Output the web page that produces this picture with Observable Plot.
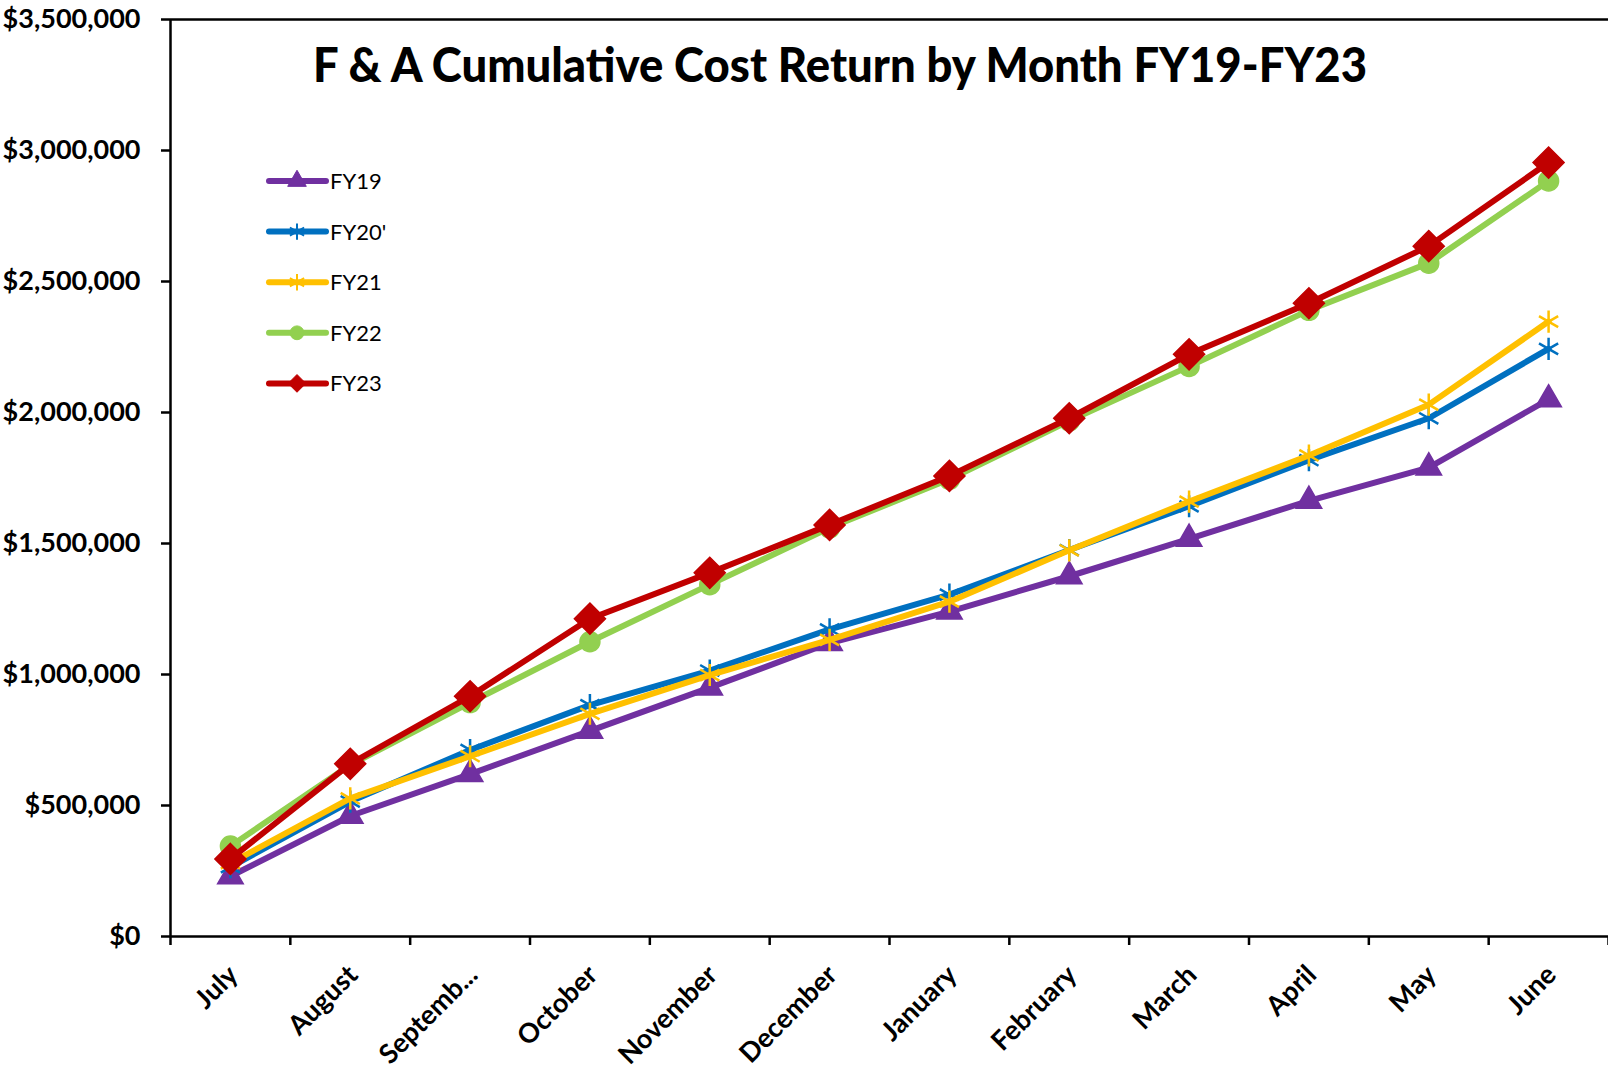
<!DOCTYPE html>
<html>
<head>
<meta charset="utf-8">
<script src="https://cdn.jsdelivr.net/npm/d3@7"></script>
<script src="https://cdn.jsdelivr.net/npm/@observablehq/plot@0.6"></script>
<style>
  html, body { margin: 0; padding: 0; background: #ffffff; }
  #chart { position: relative; width: 1608px; height: 1074px; }
</style>
</head>
<body>
<div id="chart"></div>
<script>
// ---- data ----
const months = ["July","August","September","October","November","December","January","February","March","April","May","June"];
const monthLabels = ["July","August","Septemb...","October","November","December","January","February","March","April","May","June"];
const seriesNames = ["FY19","FY20'","FY21","FY22","FY23"];
const seriesColors = ["#7030A0","#0070C0","#FFC000","#92D050","#C00000"];
const seriesSymbols = ["triangle","asterisk","asterisk","circle","diamond2"];
const fy19 = [230000, 460000, 620000, 785000, 950000, 1120000, 1240000, 1375000, 1518000, 1663000, 1790000, 2050000];
const fy20 = [265000, 515000, 712000, 883000, 1015000, 1172000, 1305000, 1475000, 1642000, 1818000, 1978000, 2243000];
const fy21 = [280000, 527000, 688000, 850000, 998000, 1132000, 1278000, 1474000, 1660000, 1836000, 2030000, 2347000];
const fy22 = [345000, 655000, 893000, 1125000, 1343000, 1560000, 1745000, 1968000, 2176000, 2390000, 2570000, 2884000];
const fy23 = [296000, 659000, 917000, 1213000, 1388000, 1571000, 1758000, 1978000, 2222000, 2417000, 2635000, 2954000];
const yTicks = [0, 500000, 1000000, 1500000, 2000000, 2500000, 3000000, 3500000];
const titleText = "F & A Cumulative Cost Return by Month FY19-FY23";

const seriesValues = [fy19, fy20, fy21, fy22, fy23];
const rows = seriesNames.map((name, s) => seriesValues[s].map((v, i) => ({series: name, pos: i + 0.5, value: v})));

// marker styling per series
const markerR = [9.5, 10.5, 10.5, 10, 14];
const markerFill = [true, false, false, true, true];

const seriesMarks = rows.flatMap((data, s) => [
  Plot.line(data, {x: "pos", y: "value", stroke: seriesColors[s], strokeWidth: 6, strokeLinejoin: "round", strokeLinecap: "round"}),
  Plot.dot(data, {
    x: "pos", y: "value", symbol: () => seriesSymbols[s], r: markerR[s],
    fill: markerFill[s] ? seriesColors[s] : "none",
    stroke: seriesColors[s], strokeWidth: markerFill[s] ? 1.5 : 2.5
  })
]);

const chart = Plot.plot({
  width: 1608,
  height: 1074,
  marginLeft: 170,
  marginRight: 0,
  marginTop: 19,
  marginBottom: 138,
  style: {fontFamily: "Lato, 'Open Sans', sans-serif", background: "#ffffff", color: "#000000", overflow: "visible"},
  x: {domain: [0, months.length], axis: null},
  y: {domain: [0, yTicks[yTicks.length - 1]], axis: null},
  marks: [
    Plot.axisY({ticks: yTicks, tickFormat: d => "$" + d3.format(",")(d), tickSize: 9, tickPadding: 21, strokeWidth: 2.5, fontSize: 27, fontWeight: "bold", label: null}),
    Plot.axisX({ticks: d3.range(months.length + 1), tickFormat: () => "", tickSize: 9, strokeWidth: 2.5, label: null}),
    Plot.axisX({ticks: d3.range(months.length).map(i => i + 0.5), tickFormat: d => monthLabels[Math.floor(d)], tickSize: 0, tickPadding: 34, tickRotate: -45, dx: 3, fontSize: 27, fontWeight: "bold", label: null}),
    Plot.ruleY([yTicks[yTicks.length - 1]], {stroke: "#000", strokeWidth: 2.5}),
    Plot.ruleY([0], {stroke: "#000", strokeWidth: 2.5}),
    Plot.ruleX([0], {stroke: "#000", strokeWidth: 2.5}),
    ...seriesMarks
  ]
});

document.getElementById("chart").appendChild(chart);

// ---- title (inside plot area) ----
const svg = d3.select(chart);
svg.append("text")
  .attr("x", 840)
  .attr("y", 82)
  .attr("text-anchor", "middle")
  .attr("font-family", "Lato, 'Open Sans', sans-serif")
  .attr("font-weight", "900")
  .attr("font-size", 47)
  .attr("textLength", 1054)
  .attr("lengthAdjust", "spacingAndGlyphs")
  .attr("fill", "#000")
  .text(titleText);

// ---- legend ----
const symbolMap = {triangle: d3.symbolTriangle, asterisk: d3.symbolAsterisk, circle: d3.symbolCircle, diamond2: d3.symbolDiamond2};
const legendSizes = [150, 190, 190, 150, 200];
const legend = svg.append("g").attr("font-family", "Lato, 'Open Sans', sans-serif").attr("font-size", 22).attr("text-anchor", "start");
seriesNames.forEach((name, s) => {
  const y = 181 + s * 50.6;
  const g = legend.append("g").attr("transform", `translate(0,${y})`);
  g.append("line").attr("x1", 269).attr("x2", 326).attr("y1", 0).attr("y2", 0)
    .attr("stroke", seriesColors[s]).attr("stroke-width", 6).attr("stroke-linecap", "round");
  g.append("path")
    .attr("transform", "translate(297,0)")
    .attr("d", d3.symbol(symbolMap[seriesSymbols[s]], legendSizes[s])())
    .attr("fill", markerFill[s] ? seriesColors[s] : "none")
    .attr("stroke", seriesColors[s])
    .attr("stroke-width", markerFill[s] ? 1 : 2);
  g.append("text").attr("x", 330).attr("y", 0).attr("dy", "0.36em").attr("text-anchor", "start").attr("fill", "#000").text(name);
});
</script>
</body>
</html>
